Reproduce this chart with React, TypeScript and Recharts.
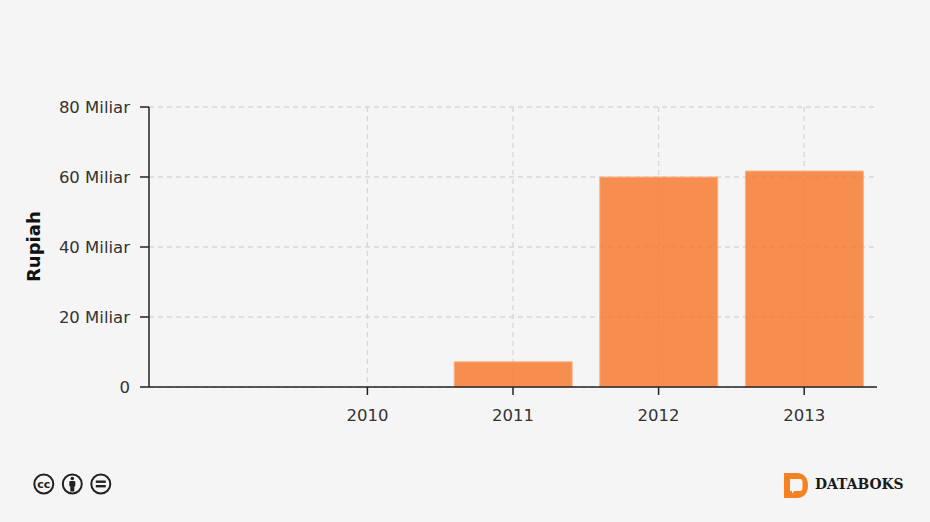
import { Bar, BarChart, CartesianGrid, XAxis, YAxis } from "recharts"

// the first band has no label, the axis starts one slot before 2010
const categories = ["", "2010", "2011", "2012", "2013"]
const rupiah = [0, 0, 7.2, 60, 61.7]
const xTicks = ["2010", "2011", "2012", "2013"]
const yTicks = [0, 20, 40, 60, 80]

const data = categories.map((year, i) => ({ year, rupiah: rupiah[i] }))

const FONT = "'DejaVu Sans', Verdana, sans-serif"
const tickStyle = { fontSize: 16.5, fontFamily: FONT, fill: "#333" }

const formatY = (v: number) => (v === 0 ? "0" : `${v} Miliar`)

function License() {
  return (
    <svg width={100} height={40} style={{ position: "absolute", left: 25, top: 464 }}>
      <g fill="#f5f5f5" stroke="#222" strokeWidth={2}>
        <circle cx={18.8} cy={20} r={9.5} />
        <circle cx={47.3} cy={20} r={9.5} />
        <circle cx={75.8} cy={20} r={9.5} />
      </g>
      <text x={18.8} y={23.5} textAnchor="middle" fontSize={11} fontWeight="bold" fontFamily={FONT} fill="#222">
        cc
      </text>
      <circle cx={47.3} cy={14.5} r={1.8} fill="#222" />
      <rect x={44.3} y={17} width={6} height={5.5} rx={1} fill="#222" />
      <rect x={45.3} y={22} width={4} height={5.5} fill="#222" />
      <rect x={70.8} y={16.5} width={10} height={2.4} fill="#222" />
      <rect x={70.8} y={21} width={10} height={2.4} fill="#222" />
    </svg>
  )
}

function Logo() {
  return (
    <div style={{ position: "absolute", left: 783, top: 472 }}>
      <svg width={26} height={27} style={{ position: "absolute", left: 0, top: 0 }}>
        <path d="M1 1H14C21 1 25 6 25 13.5C25 21 21 26 14 26H1Z" fill="#f58220" />
        <path d="M7 7H17C18.5 7 19.5 8 19.5 10V16C19.5 18 18.5 19 17 19H11.5L9 21.5V19H7Z" fill="#f5f5f5" />
      </svg>
      <span
        style={{
          position: "absolute",
          left: 32,
          top: 4,
          fontFamily: "'DejaVu Serif', serif",
          fontWeight: "bold",
          fontSize: 13.9,
          color: "#1a1a1a",
          whiteSpace: "nowrap",
        }}
      >
        DATABOKS
      </span>
    </div>
  )
}

export default function App() {
  return (
    <div style={{ position: "absolute", left: 0, top: 0, width: 930, height: 522, background: "#f5f5f5", overflow: "hidden" }}>
      <BarChart
        width={930}
        height={522}
        data={data}
        margin={{ top: 107, right: 53, bottom: 0, left: 0 }}
        barCategoryGap="9.6%"
      >
        <CartesianGrid stroke="#d6d6d6" strokeWidth={1.3} strokeDasharray="5 4" syncWithTicks />
        <XAxis
          dataKey="year"
          ticks={xTicks}
          interval={0}
          height={135}
          tickSize={8}
          tickMargin={14}
          tick={tickStyle}
          axisLine={{ stroke: "#222", strokeWidth: 1.5 }}
          tickLine={{ stroke: "#222", strokeWidth: 1.5 }}
        />
        <YAxis
          domain={[0, 80]}
          ticks={yTicks}
          width={149}
          tickSize={9}
          tickMargin={10}
          tick={tickStyle}
          tickFormatter={formatY}
          axisLine={{ stroke: "#222", strokeWidth: 1.5 }}
          tickLine={{ stroke: "#222", strokeWidth: 1.5 }}
          label={{
            value: "Rupiah",
            angle: -90,
            position: "insideLeft",
            dx: 29,
            dy: 35,
            style: { fontSize: 18, fontWeight: "bold", fontFamily: FONT, fill: "#111" },
          }}
        />
        <Bar dataKey="rupiah" fill="#f47b30" fillOpacity={0.85} stroke="#f9b48a" strokeWidth={1} isAnimationActive={false} />
      </BarChart>
      <License />
      <Logo />
    </div>
  )
}
